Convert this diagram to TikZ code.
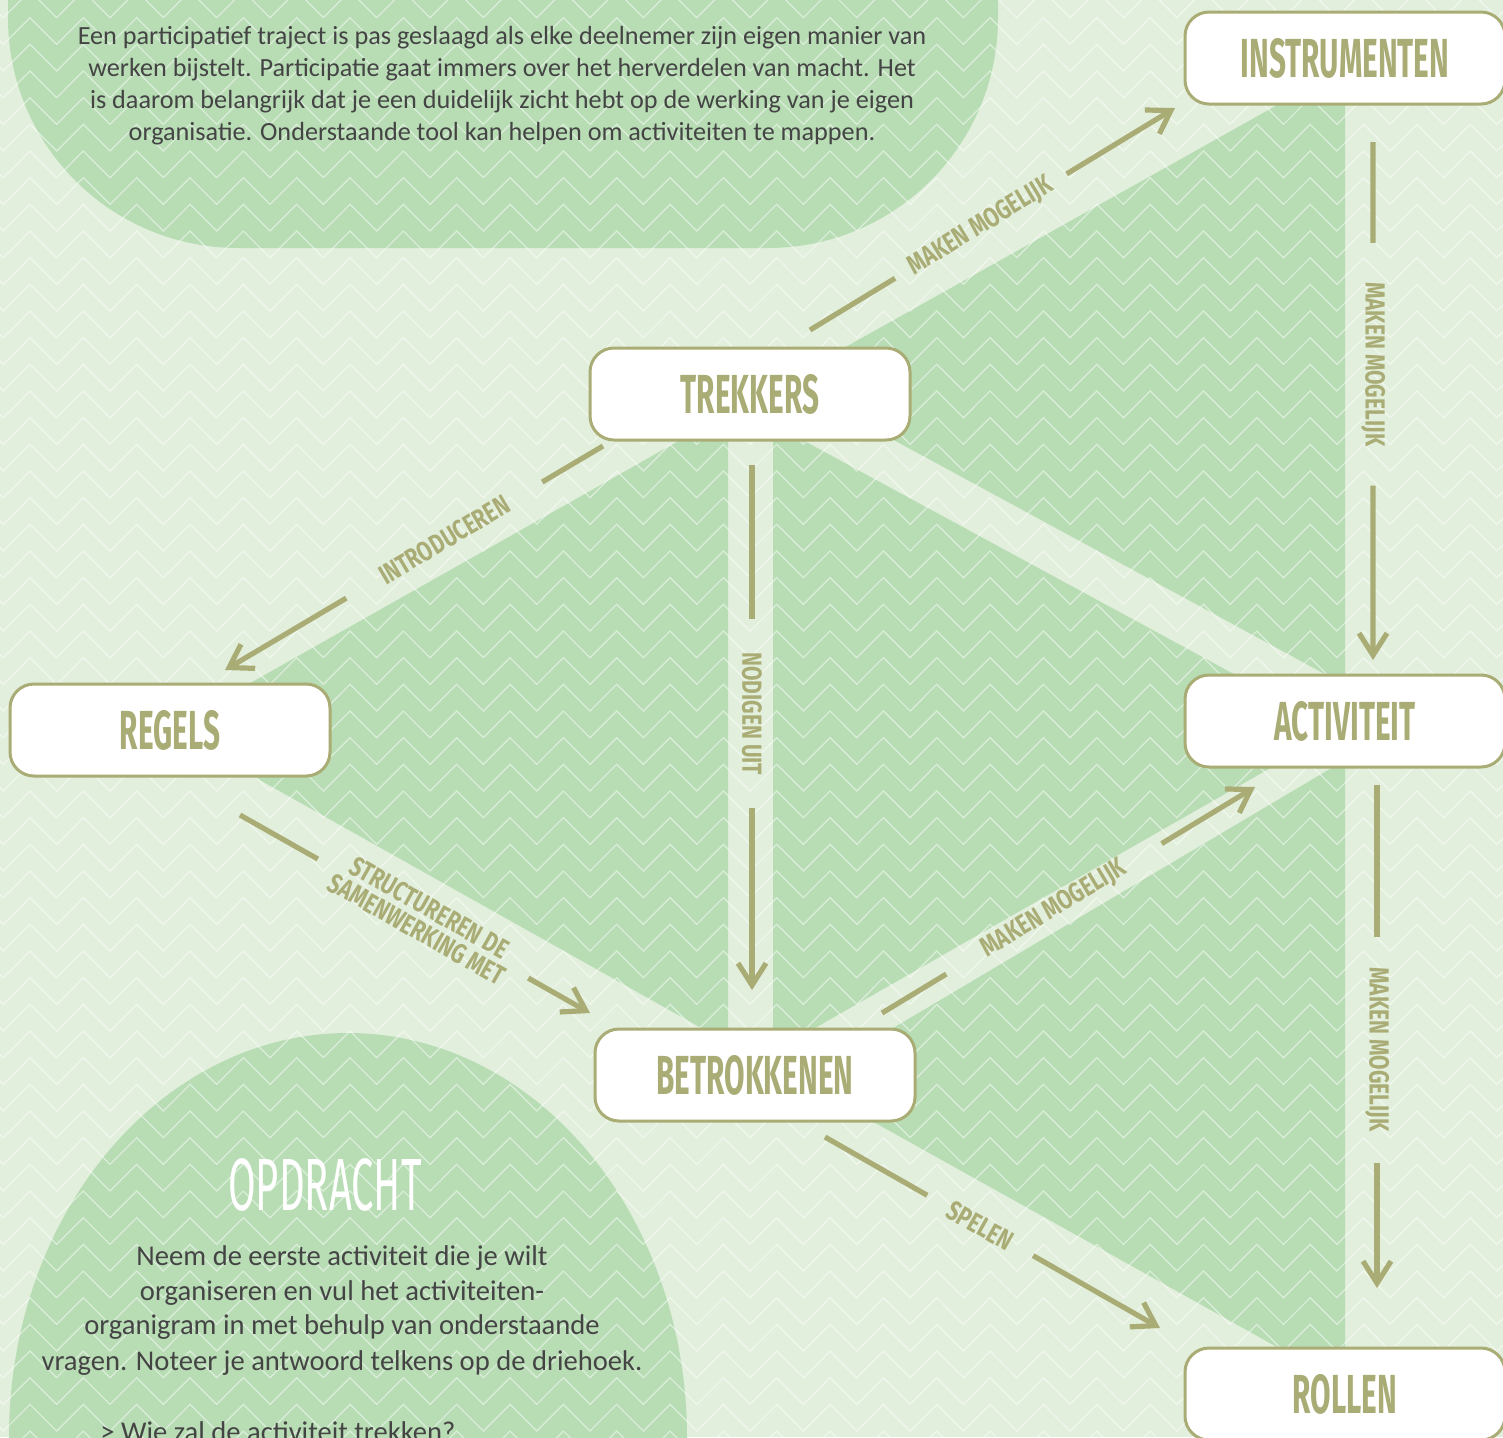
\documentclass[tikz,border=0pt]{standalone}
\usepackage{fontspec}
\setmainfont{Carlito}
\newfontfamily\boxfont[FakeStretch=0.54]{Fira Sans}
\newfontfamily\lblfont[FakeStretch=0.76]{Fira Sans}
\usetikzlibrary{arrows.meta,calc,decorations.pathmorphing}

\definecolor{bgl}{HTML}{E3EFDD}
\definecolor{leaf}{HTML}{B8DDB5}
\definecolor{olive}{HTML}{A9AC74}
\definecolor{ink}{HTML}{444444}

\begin{document}
\begin{tikzpicture}[x=0.5pt,y=-0.5pt]
    \tikzstyle{box} = [rectangle, rounded corners=12pt, draw=olive, line width=1.5pt, fill=white,
        minimum width=160pt, minimum height=46pt, text=olive,
        font=\boxfont\bfseries\fontsize{27.5}{30}\selectfont]
    \tikzstyle{lbl} = [inner sep=0pt, text=olive, align=center,
        font=\lblfont\bfseries\fontsize{13.8}{12.5}\selectfont]
    \tikzstyle{conn} = [draw=olive, line width=2.6pt]
    \tikzstyle{arr} = [conn, -{Straight Barb[length=11pt,width=14pt]}]
    \tikzstyle{zz} = [white, opacity=.5, line width=.6pt, decorate,
        decoration={zigzag, segment length=26.67pt, amplitude=6.67pt}]

    \clip (0,0) rectangle (1503,1437);
    \fill[bgl] (0,0) rectangle (1503,1437);

    % groene vlakken
    \fill[leaf, rounded corners=115pt] (8,-300) rectangle (998,248);
    \fill[leaf] (348,1437) ellipse [x radius=339, y radius=404];
    \fill[leaf] (785,381) -- (1345,67) -- (1345,685) -- cycle;
    \fill[leaf] (728,413) -- (169,729) -- (728,1043) -- cycle;
    \fill[leaf] (773,424) -- (1337,730) -- (773,1052) -- cycle;
    \fill[leaf] (802,1082) -- (1345,760) -- (1345,1385) -- cycle;

    % zigzag patroon
    \foreach \n [evaluate=\n as \yc using 324.33+26.667*\n] in {-13,...,42}
        \draw[zz] (-36.67,\yc) -- (1563.3,\yc);

    % teksten
    \node[text=ink, align=center, font=\fontsize{13.1}{16}\selectfont] (intro) at (502,86)
        {Een participatief traject is pas geslaagd als elke deelnemer zijn eigen manier van\\
         werken bijstelt. Participatie gaat immers over het herverdelen van macht. Het\\
         is daarom belangrijk dat je een duidelijk zicht hebt op de werking van je eigen\\
         organisatie. Onderstaande tool kan helpen om activiteiten te mappen.};
    \node[text=white, font=\boxfont\fontsize{37}{38}\selectfont] (opdracht) at (325,1185) {OPDRACHT};
    \node[text=ink, align=center, font=\fontsize{14.3}{17.5}\selectfont] (opdrachttxt) at (342,1310)
        {Neem de eerste activiteit die je wilt\\
         organiseren en vul het activiteiten-\\
         organigram in met behulp van onderstaande\\
         vragen. Noteer je antwoord telkens op de driehoek.};
    \node[text=ink, anchor=base west, inner sep=0pt, font=\fontsize{14.3}{17.5}\selectfont] (vraag) at (100,1441)
        {> Wie zal de activiteit trekken?};

    % vakken
    \node[box] (instrumenten) at (1345,58) {INSTRUMENTEN};
    \node[box] (trekkers) at (750,394) {TREKKERS};
    \node[box] (regels) at (170,730) {REGELS};
    \node[box] (activiteit) at (1345,721) {ACTIVITEIT};
    \node[box] (betrokkenen) at (755,1075) {BETROKKENEN};
    \node[box] (rollen) at (1345,1394) {ROLLEN};

    % pijlen
    \coordinate (maak1s) at (810,330);
    \coordinate (maak1e) at (1175,108);
    \node[lbl, rotate=31.3, minimum width=100pt] (maak1) at ($(maak1s)!.468!(maak1e)$) {MAKEN MOGELIJK};
    \draw[conn] (maak1s) -- (maak1);
    \draw[arr] (maak1) -- (maak1e);

    \coordinate (introds) at (603,446);
    \coordinate (introde) at (225,670);
    \node[lbl, rotate=30.7, minimum width=113.5pt] (introd) at ($(introds)!.42!(introde)$) {INTRODUCEREN};
    \draw[conn] (introds) -- (introd);
    \draw[arr] (introd) -- (introde);

    \coordinate (nodigs) at (752,465);
    \coordinate (nodige) at (752,990);
    \node[lbl, rotate=-90, minimum width=94pt] (nodig) at ($(nodigs)!.474!(nodige)$) {NODIGEN UIT};
    \draw[conn] (nodigs) -- (nodig);
    \draw[arr] (nodig) -- (nodige);

    \coordinate (maak2s) at (1373,142);
    \coordinate (maak2e) at (1373,660);
    \node[lbl, rotate=-90, minimum width=121pt] (maak2) at ($(maak2s)!.429!(maak2e)$) {MAKEN MOGELIJK};
    \draw[conn] (maak2s) -- (maak2);
    \draw[arr] (maak2) -- (maak2e);

    \coordinate (structs) at (240,815);
    \coordinate (structe) at (590,1013);
    \node[lbl, rotate=-29.5, minimum width=120.5pt] (struct) at ($(structs)!.523!(structe)$) {STRUCTUREREN DE\\SAMENWERKING MET};
    \draw[conn] (structs) -- (struct);
    \draw[arr] (struct) -- (structe);

    \coordinate (maak3s) at (882,1013);
    \coordinate (maak3e) at (1255,787);
    \node[lbl, rotate=31.2, minimum width=125.5pt] (maak3) at ($(maak3s)!.461!(maak3e)$) {MAKEN MOGELIJK};
    \draw[conn] (maak3s) -- (maak3);
    \draw[arr] (maak3) -- (maak3e);

    \coordinate (maak4s) at (1377,785);
    \coordinate (maak4e) at (1377,1288);
    \node[lbl, rotate=-90, minimum width=112.5pt] (maak4) at ($(maak4s)!.526!(maak4e)$) {MAKEN MOGELIJK};
    \draw[conn] (maak4s) -- (maak4);
    \draw[arr] (maak4) -- (maak4e);

    \coordinate (spels) at (825,1137);
    \coordinate (spele) at (1160,1328);
    \node[lbl, rotate=-29.7, minimum width=60.5pt] (spel) at ($(spels)!.463!(spele)$) {SPELEN};
    \draw[conn] (spels) -- (spel);
    \draw[arr] (spel) -- (spele);
\end{tikzpicture}
\end{document}
